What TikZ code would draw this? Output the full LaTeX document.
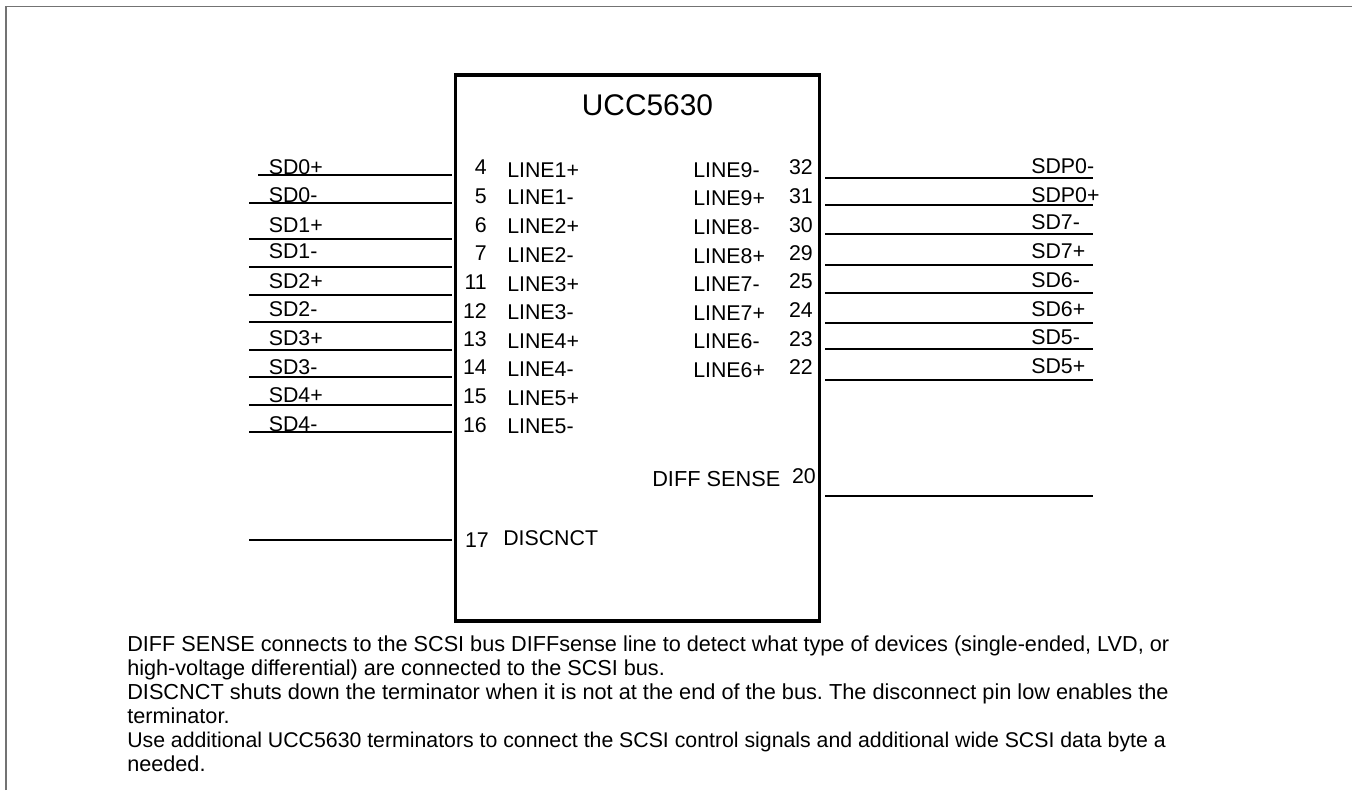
\documentclass[tikz,border=0pt]{standalone}
\usepackage{fontspec}
\setmainfont{Liberation Sans}
\begin{document}
\frenchspacing
\begin{tikzpicture}[x=0.75pt,y=-0.75pt,
  lbl/.style={font=\fontsize{16}{16}\selectfont,inner sep=0pt,text=black},
  lblw/.style={lbl,anchor=base west},
  lble/.style={lbl,anchor=base east},
  note/.style={inner sep=0pt,anchor=base west,text=black,font=\fontsize{#1}{16}\selectfont},
  wire/.style={line width=1.5pt,black},
  wirel/.style={line width=1.1pt,black},
  chip/.style={draw=black,line width=2.4pt,fill=white,minimum width=273pt,minimum height=409.5pt,inner sep=0pt}]
\useasboundingbox (0,0) rectangle (1352,790);
\draw[line width=1.2pt,black!55] (6,790) -- (6,6.5) -- (1352,6.5);
\node[chip] (ic) at (637.5,348) {};
\node[inner sep=0pt,anchor=base,font=\fontsize{22.4}{22.4}\selectfont] (title) at (647.5,115) {UCC5630};
% left wires
\foreach \n/\xs/\y/\t/\ty/\p/\py/\l/\ly in {
 a/258/175/SD0+/174/4/174/LINE1+/177.5,
 b/249/203/SD0-/202/5/203/LINE1-/204.5,
 c/249/239/SD1+/232/6/232/LINE2+/233.5,
 d/249/267/SD1-/258/7/260/LINE2-/262,
 e/249/295/SD2+/288/11/289/LINE3+/291,
 f/249/322/SD2-/316/12/318/LINE3-/319,
 g/249/350/SD3+/345/13/346/LINE4+/348,
 h/249/377/SD3-/374/14/374/LINE4-/376,
 i/249/405/SD4+/402/15/403/LINE5+/405,
 j/249/432/SD4-/431/16/432/LINE5-/433}{
  \coordinate (ls\n) at (\xs,\y);
  \coordinate (le\n) at (452,\y);
  \draw[wirel] (ls\n) -- (le\n);
  \node[lblw] (lt\n) at (268.5,\ty) {\t};
  \node[lble] (lp\n) at (487,\py) {\p};
  \node[lblw] (ln\n) at (507,\ly) {\l};
}
% right wires
\foreach \n/\y/\t/\ty/\p/\py/\l/\ly in {
 a/178/SDP0-/173/32/174/LINE9-/177,
 b/205/SDP0+/202/31/203/LINE9+/205,
 c/234/SD7-/229/30/232/LINE8-/234,
 d/265/SD7+/258/29/260/LINE8+/263,
 e/293/SD6-/287/25/288/LINE7-/291,
 f/323/SD6+/316/24/317/LINE7+/320,
 g/349/SD5-/344/23/346/LINE6-/348,
 h/380/SD5+/373/22/374/LINE6+/377}{
  \coordinate (rs\n) at (825,\y);
  \coordinate (re\n) at (1093,\y);
  \draw[wire] (rs\n) -- (re\n);
  \node[lblw] (rt\n) at (1031,\ty) {\t};
  \node[lble] (rp\n) at (813,\py) {\p};
  \node[lblw] (rn\n) at (693,\ly) {\l};
}
\coordinate (dsa) at (825,496);
\coordinate (dsb) at (1093,496);
\draw[wire] (dsa) -- (dsb);
\node[lblw] (dsl) at (652,486) {\fontsize{16.3}{16}\selectfont DIFF SENSE};
\node[lble] (dsp) at (816,483) {20};
\coordinate (dca) at (249,540);
\coordinate (dcb) at (452,540);
\draw[wirel] (dca) -- (dcb);
\node[lble] (dcp) at (489,547) {17};
\node[lblw] (dcl) at (503,545) {DISCNCT};
% notes
\node[note=16.24] (n1) at (127,651) {DIFF SENSE connects to the SCSI bus DIFFsense line to detect what type of devices (single-ended, LVD, or};
\node[note=16.24] (n2) at (127,675) {high-voltage differential) are connected to the SCSI bus.};
\node[note=16.3] (n3) at (127,699) {DISCNCT shuts down the terminator when it is not at the end of the bus. The disconnect pin low enables the};
\node[note=16.24] (n4) at (127,723) {terminator.};
\node[note=15.96] (n5) at (127,747) {Use additional UCC5630 terminators to connect the SCSI control signals and additional wide SCSI data byte a};
\node[note=16.24] (n6) at (127,771) {needed.};
\end{tikzpicture}
\end{document}
